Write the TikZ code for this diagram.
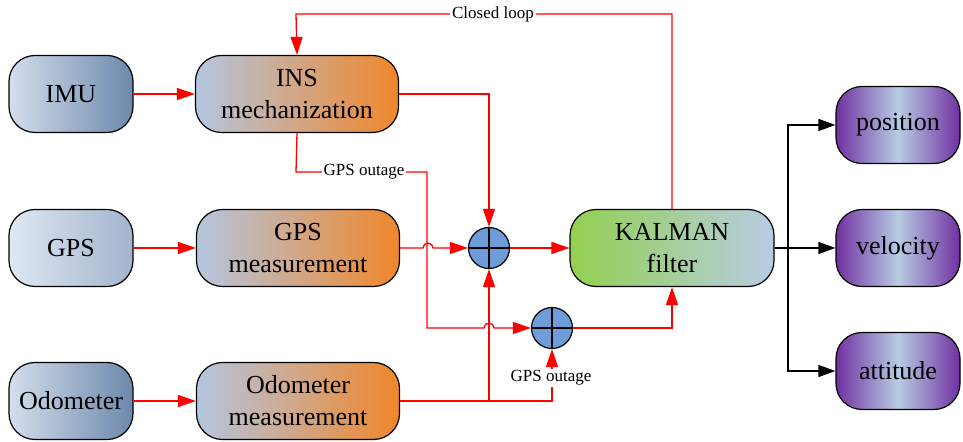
\documentclass[tikz,border=0pt]{standalone}
\usepackage{fontspec}
\setmainfont{Liberation Serif}
\usetikzlibrary{arrows.meta, positioning, calc}

\definecolor{senslight}{HTML}{D4DEEC}
\definecolor{sensdark}{HTML}{6C88AB}
\definecolor{gpslight}{HTML}{DFE7F2}
\definecolor{gpsdark}{HTML}{A3B4CD}
\definecolor{proclight}{HTML}{B4C6E0}
\definecolor{procorange}{HTML}{F0862A}
\definecolor{kfgreen}{HTML}{92D050}
\definecolor{kfblue}{HTML}{B8CCE4}
\definecolor{outpurple}{HTML}{7030A0}
\definecolor{sumblue}{HTML}{6E9CD9}

\tikzset{
    block/.style={draw, line width=0.6pt, rounded corners=13pt, minimum height=38.5pt,
        inner sep=0pt, align=center, font=\fontsize{13}{16}\selectfont},
    sensor/.style={block, minimum width=62pt, left color=senslight, right color=sensdark},
    process/.style={block, minimum width=101.5pt, left color=proclight, right color=procorange},
    filterbox/.style={block, minimum width=102pt, left color=kfgreen, right color=kfblue},
    output/.style={block, minimum width=62pt, left color=outpurple, right color=outpurple,
        middle color=kfblue},
    sumnode/.style={circle, draw, line width=0.6pt, fill=sumblue, minimum size=20.5pt, inner sep=0pt,
        path picture={\draw[line width=0.6pt]
            (path picture bounding box.north) -- (path picture bounding box.south)
            (path picture bounding box.west) -- (path picture bounding box.east);}},
    link/.style={red, line width=0.65pt},
    arr/.style={link, -{Triangle[length=9pt, width=6pt]}},
    outarr/.style={black, line width=0.6pt, -{Triangle[length=8.5pt, width=6pt]}},
    tag/.style={fill=white, inner sep=1pt, font=\fontsize{8.5}{10}\selectfont}
}

\begin{document}
\begin{tikzpicture}[x=0.5pt, y=-0.5pt]
    \useasboundingbox (0,0) rectangle (963,442);

    % sensors and their processing blocks
    \node (imu)  [sensor] at (71,94)  {IMU};
    \node (gps)  [sensor, left color=gpslight, right color=gpsdark] at (71,248) {GPS};
    \node (odo)  [sensor] at (71,401) {Odometer};
    \node (ins)  [process] at (297,94)  {INS\\mechanization};
    \node (gpsm) [process] at (298,248) {GPS\\measurement};
    \node (odom) [process] at (298,401) {Odometer\\measurement};

    % fusion
    \node (sumA) [sumnode] at (489,248) {};
    \node (sumB) [sumnode] at (552,328) {};
    \node (kf)   [filterbox] at (672,248) {KALMAN\\filter};

    % outputs
    \node (pos) [output] at (898,125) {position};
    \node (vel) [output] at (898,248) {velocity};
    \node (att) [output] at (898,371) {attitude};

    \draw[arr] (imu) -- (ins);
    \draw[arr] (gps) -- (gpsm);
    \draw[arr] (odo) -- (odom);

    \draw[arr] (ins.east) -| (sumA.north);
    \draw[arr] (gpsm.east) -- (423,248) arc[start angle=180, end angle=0, radius=2.5pt]
        -- (sumA.west);
    \draw[arr] (ins.south) -- (296,172) -- (427,172) -- (427,328) -- (484,328)
        arc[start angle=180, end angle=0, radius=2.5pt] -- (sumB.west);
    \draw[arr] (odom.east) -| (sumB.south);
    \draw[arr] (489,402) -- (sumA.south);
    \draw[arr] (sumA) -- (kf);
    \draw[arr] (sumB.east) -| (kf.south);
    \draw[arr] (kf.north) |- (296,14) -- (ins.north);

    \node (loop) [tag] at (493,14) {Closed loop};
    \node (outA) [tag] at (364,172) {GPS outage};
    \node (outB) [tag] at (551,378) {GPS outage};

    % filter outputs
    \coordinate (split) at (788,248);
    \draw[black, line width=0.6pt] (kf.east) -- (split);
    \draw[outarr] (split) |- (pos.west);
    \draw[outarr] (split) -- (vel.west);
    \draw[outarr] (split) |- (att.west);
\end{tikzpicture}
\end{document}
